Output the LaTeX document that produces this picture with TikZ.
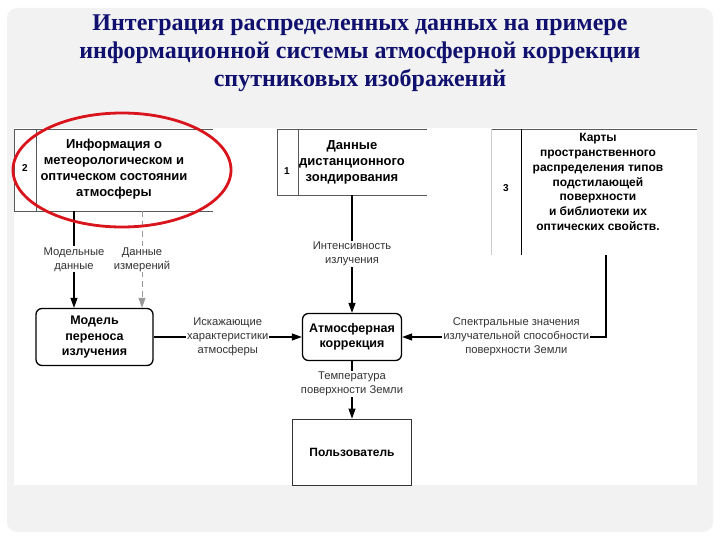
\documentclass[tikz,border=0pt]{standalone}
\usepackage{fontspec}
\setmainfont{Liberation Serif}
\setsansfont{Liberation Sans}
\usetikzlibrary{arrows.meta,positioning}

\definecolor{titleBlue}{RGB}{16,16,110}
\definecolor{panelGray}{RGB}{242,242,242}
\definecolor{ringRed}{RGB}{218,20,28}

\begin{document}
\begin{tikzpicture}[x=1pt,y=-1pt,
  storeLine/.style={draw=black!65,line width=0.8pt},
  storeText/.style={font=\sffamily\bfseries\fontsize{13}{16}\selectfont,align=center,inner sep=0pt},
  storeNum/.style={font=\sffamily\bfseries\fontsize{10}{12}\selectfont,inner sep=0pt},
  procBox/.style={draw,line width=1.3pt,rounded corners=6pt,align=center,inner sep=0pt,
    font=\sffamily\bfseries\fontsize{12.5}{15.5}\selectfont},
  userBox/.style={draw=black!80,line width=0.8pt,inner sep=0pt,
    font=\sffamily\bfseries\fontsize{12}{14}\selectfont},
  flowLbl/.style={fill=white,inner sep=1pt,align=center,text=black!80,
    font=\sffamily\fontsize{11.2}{14}\selectfont},
  flow/.style={draw,line width=1.2pt,-{Triangle[length=10pt,width=7pt]}},
  flowDash/.style={draw=black!40,line width=1pt,dash pattern=on 6pt off 4pt,
    -{Triangle[length=10pt,width=7pt]}}
]
% page, grey panel and white drawing area
\fill[white] (0,0) rectangle (720,540);
\fill[panelGray,rounded corners=10pt] (7,8) rectangle (713,532);
\fill[white] (14,128) rectangle (697,485);
\useasboundingbox (0,0) rectangle (720,540);

% title
\node[font=\rmfamily\bfseries\fontsize{24}{28}\selectfont,text=titleBlue,align=center] (title) at (360,53)
  {Интеграция распределенных данных на примере\\информационной системы атмосферной коррекции\\спутниковых изображений};

% data store 2
\draw[storeLine] (213,129) -- (14,129) -- (14,211) -- (213,211);
\draw[storeLine] (36,129) -- (36,211);
\node[storeNum] (num2) at (25,168) {2};
\node[storeText] (info) at (114,169) {Информация о\\метеорологическом и\\оптическом состоянии\\атмосферы};

% data store 1
\draw[storeLine] (427,129) -- (277,129) -- (277,195) -- (427,195);
\draw[storeLine] (298,129) -- (298,195);
\node[storeNum] (num1) at (287,171) {1};
\node[storeText] (rsData) at (352,162) {Данные\\дистанционного\\зондирования};

% data store 3
\draw[storeLine] (491,129) -- (697,129);
\draw[black!20,line width=0.8pt] (491,129) -- (491,255);
\draw[black,line width=1pt] (521,129) -- (521,255);
\node[storeNum] (num3) at (506,188) {3};
\node[storeText,font=\sffamily\bfseries\fontsize{12}{14.7}\selectfont] (maps) at (598,182)
  {Карты\\пространственного\\распределения типов\\подстилающей\\поверхности\\и библиотеки их\\оптических свойств.};

% processes
\node[procBox,minimum width=117pt,minimum height=57pt] (model) at (94.5,337) {Модель\\переноса\\излучения};
\node[procBox,minimum width=99pt,minimum height=47pt] (atmCorr) at (352,337) {Атмосферная\\коррекция};
\node[userBox,minimum width=119pt,minimum height=66pt] (user) at (352,452) {Пользователь};

% flows
\coordinate (infoModel) at (74,211);
\coordinate (infoMeas) at (142,211);
\coordinate (rsOut) at (352,195);
\coordinate (mapsOut) at (606,255);

\draw[flow] (infoModel) -- node[flowLbl]{Модельные\\данные} (infoModel |- model.north);
\draw[flowDash] (infoMeas) -- node[flowLbl]{Данные\\измерений} (infoMeas |- model.north);
\draw[flow] (rsOut) -- node[flowLbl]{Интенсивность\\излучения} (atmCorr.north);
\draw[flow] (model.east) -- node[flowLbl]{Искажающие\\характеристики\\атмосферы} (atmCorr.west);
\draw[flow] (mapsOut) -- (mapsOut |- atmCorr.east) -- node[flowLbl,pos=0.44]
  {Спектральные значения\\излучательной способности\\поверхности Земли} (atmCorr.east);
\draw[flow] (atmCorr.south) -- node[flowLbl,pos=0.4]{Температура\\поверхности Земли} (user.north);

% red ring round store 2
\draw[ringRed,line width=2.8pt] (122,170) ellipse [x radius=109pt,y radius=57pt];
\end{tikzpicture}
\end{document}
